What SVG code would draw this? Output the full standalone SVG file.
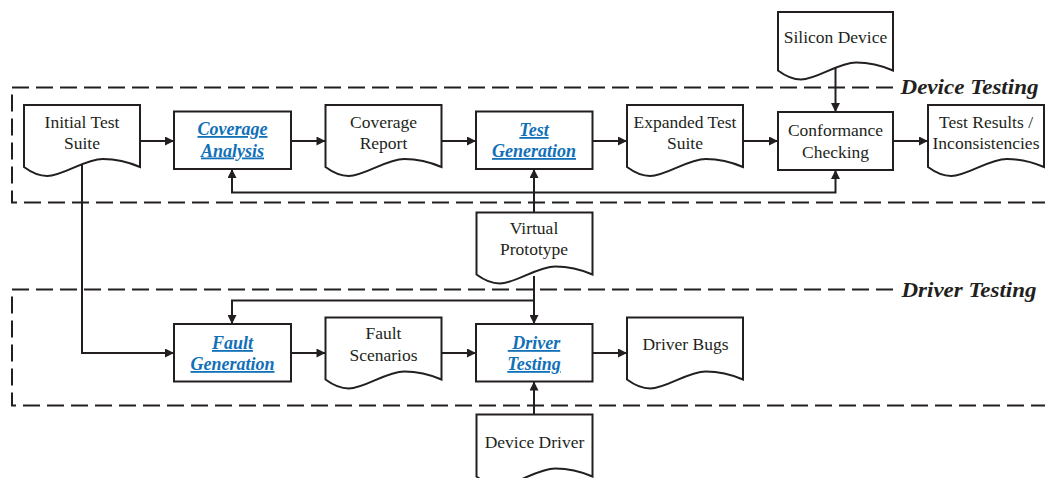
<svg xmlns="http://www.w3.org/2000/svg" xmlns:xlink="http://www.w3.org/1999/xlink" width="1045" height="478" viewBox="0 0 1045 478">
<style>
.shape{fill:#ffffff;stroke:#231f20;stroke-width:2}
.t{font-family:"Liberation Serif","Times New Roman",serif;font-size:17.5px;fill:#231f20;text-anchor:middle}
.b{font-family:"Liberation Serif","Times New Roman",serif;font-size:18px;font-weight:bold;font-style:italic;fill:#1170b8;text-anchor:middle;text-decoration:underline}
.lbl{font-family:"Liberation Serif","Times New Roman",serif;font-size:22px;font-weight:bold;font-style:italic;fill:#231f20}
.dash{fill:none;stroke:#231f20;stroke-width:2;stroke-dasharray:17 7}
.c{fill:none;stroke:#231f20;stroke-width:2}
.a{marker-end:url(#ah)}
</style>
<defs>
<marker id="ah" viewBox="0 0 10 10" refX="10" refY="5" markerWidth="10" markerHeight="9" markerUnits="userSpaceOnUse" orient="auto">
<path d="M0,0 L10,5 L0,10 Z" fill="#231f20"/>
</marker>
<path id="doc" d="M0,0 H116 V62 C104.4,57 92.8,54 78.9,54 C60.3,54 39.4,71 23.2,71 C15.1,71 8.1,68 0,62 Z"/>
<path id="docs" d="M0,0 H115 V58.5 C103.5,53.5 92,50.5 78.2,50.5 C59.8,50.5 39.1,67.5 23,67.5 C15,67.5 8,64.5 0,58.5 Z"/>
</defs>

<g id="groups">
<path class="dash" d="M893,87.5 H12 V202.5 H1045"/>
<text class="lbl" x="900.5" y="94" textLength="138" lengthAdjust="spacingAndGlyphs">Device Testing</text>
<path class="dash" d="M893,289.5 H12 V405.5 H1045"/>
<text class="lbl" x="901.5" y="296.5" textLength="135" lengthAdjust="spacingAndGlyphs">Driver Testing</text>
</g>

<g id="connectors">
<path class="c a" d="M140,141 H174"/>
<path class="c a" d="M291,141 H325.5"/>
<path class="c a" d="M441.5,141 H476"/>
<path class="c a" d="M592.5,141 H627"/>
<path class="c a" d="M743,141 H778"/>
<path class="c a" d="M893,141 H928"/>
<path class="c a" d="M835.5,67.5 V112"/>
<path class="c a" d="M534,212.5 V169"/>
<path class="c a" d="M534,192.5 H232 V169"/>
<path class="c a" d="M534,192.5 H835.5 V170"/>
<path class="c a" d="M534,276 V324"/>
<path class="c a" d="M534,276 V300.5 H232 V324"/>
<path class="c a" d="M82,165 V353 H174"/>
<path class="c a" d="M291,353 H325.5"/>
<path class="c a" d="M441.5,353 H476"/>
<path class="c a" d="M592.5,353 H627"/>
<path class="c a" d="M534,414.5 V381.5"/>
</g>

<g id="initial-test-suite">
<use xlink:href="#doc" class="shape" transform="translate(24,105)"/>
<text class="t" x="82" y="127.5">Initial Test</text>
<text class="t" x="82" y="148.5">Suite</text>
</g>

<g id="coverage-analysis">
<rect class="shape" x="174" y="111.5" width="117" height="57.5"/>
<text class="b" x="232.5" y="135">Coverage</text>
<text class="b" x="232.5" y="156.5">Analysis</text>
</g>

<g id="coverage-report">
<use xlink:href="#doc" class="shape" transform="translate(325.5,105)"/>
<text class="t" x="383.5" y="127.5">Coverage</text>
<text class="t" x="383.5" y="148.5">Report</text>
</g>

<g id="test-generation">
<rect class="shape" x="476" y="111.5" width="116.5" height="57.5"/>
<text class="b" x="534" y="136">Test</text>
<text class="b" x="534" y="157">Generation</text>
</g>

<g id="expanded-test-suite">
<use xlink:href="#doc" class="shape" transform="translate(627,105)"/>
<text class="t" x="685" y="127.5">Expanded Test</text>
<text class="t" x="685" y="148.5">Suite</text>
</g>

<g id="silicon-device">
<use xlink:href="#docs" class="shape" transform="translate(778,12)"/>
<text class="t" x="835.5" y="43">Silicon Device</text>
</g>

<g id="conformance-checking">
<rect class="shape" x="778" y="112" width="115" height="58"/>
<text class="t" x="835.5" y="136">Conformance</text>
<text class="t" x="835.5" y="157.5">Checking</text>
</g>

<g id="test-results">
<use xlink:href="#doc" class="shape" transform="translate(928,105)"/>
<text class="t" x="986" y="127.5">Test Results /</text>
<text class="t" x="986" y="148.5">Inconsistencies</text>
</g>

<g id="virtual-prototype">
<use xlink:href="#doc" class="shape" transform="translate(476.5,212.5)"/>
<text class="t" x="534" y="233.5">Virtual</text>
<text class="t" x="534" y="254.5">Prototype</text>
</g>

<g id="fault-generation">
<rect class="shape" x="174" y="324" width="117" height="57.5"/>
<text class="b" x="232.5" y="349">Fault</text>
<text class="b" x="232.5" y="370">Generation</text>
</g>

<g id="fault-scenarios">
<use xlink:href="#doc" class="shape" transform="translate(325.5,317.5)"/>
<text class="t" x="383.5" y="339">Fault</text>
<text class="t" x="383.5" y="360.5">Scenarios</text>
</g>

<g id="driver-testing">
<rect class="shape" x="476" y="324" width="116.5" height="57.5"/>
<text class="b" x="534" y="349">&#160;Driver</text>
<text class="b" x="534" y="370">Testing</text>
</g>

<g id="driver-bugs">
<use xlink:href="#doc" class="shape" transform="translate(627,317.5)"/>
<text class="t" x="685.5" y="350">Driver Bugs</text>
</g>

<g id="device-driver">
<use xlink:href="#doc" class="shape" transform="translate(476.5,414.5)"/>
<text class="t" x="534.5" y="447.5">Device Driver</text>
</g>
</svg>
